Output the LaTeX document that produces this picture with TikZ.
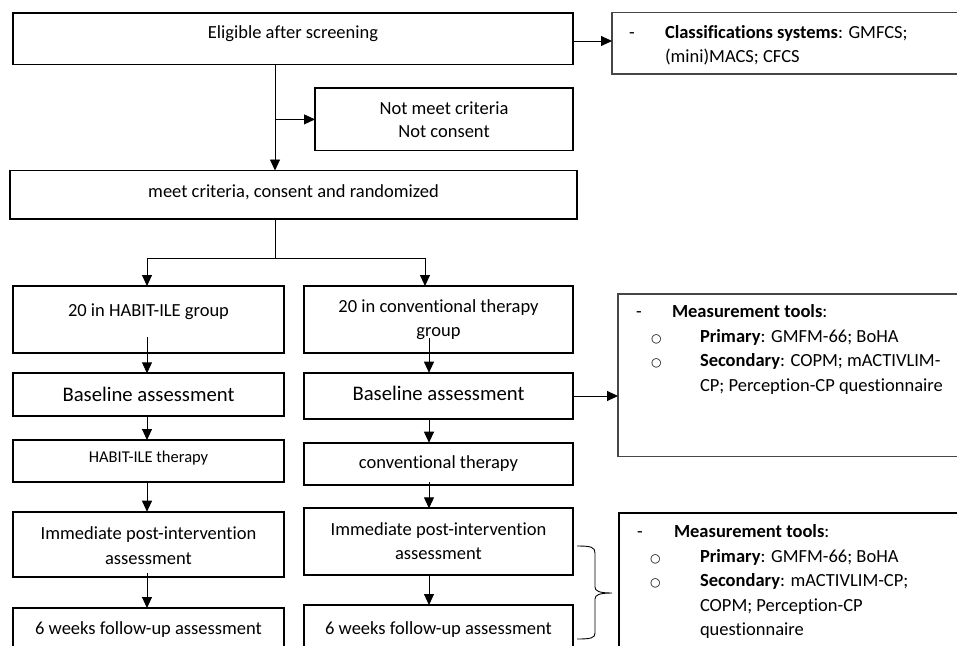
\documentclass[tikz,border=0pt]{standalone}
\usepackage{fontspec}
\setmainfont{Carlito}[Ligatures={NoCommon,NoContextual}]
\newfontfamily\bulletfont{DejaVu Sans}
\usetikzlibrary{arrows.meta}
\definecolor{thinline}{RGB}{70,70,70}
\newcommand\rb[2]{\raisebox{#1pt}[0pt][0pt]{#2}}
\newcommand\lt[3]{\makebox[0pt][l]{\hspace*{#1pt}\raisebox{#2pt}[0pt][0pt]{#3}}}
\newcommand\twol[2]{\begin{tabular}[t]{@{}c@{}}#1\\#2\end{tabular}}
\newcommand\ob{{\bulletfont\fontsize{12}{12}\selectfont ○}}
\begin{document}
\begin{tikzpicture}[x=1pt,y=-1pt,
  box/.style={draw=black, line width=1.8pt, inner sep=0pt, outer sep=0pt,
    font=\fontsize{18.5}{24.5}\selectfont},
  infobox/.style={draw=thinline, line width=1.1pt, inner sep=0pt, outer sep=0pt,
    font=\fontsize{18.5}{24.5}\selectfont},
  arr/.style={line width=0.9pt, -{Triangle[length=11pt,width=10pt]}},
  con/.style={line width=0.9pt}]
\useasboundingbox (0,0) rectangle (957,645);
\clip (0,0) rectangle (957,645);
\fill[white] (0,0) rectangle (957,645);

\coordinate (spine) at (275,0);
\coordinate (colL) at (147,0);
\coordinate (colR) at (429,0);
\coordinate (colRb) at (425,0);
\coordinate (split) at (275,258);

% top part
\node[box, minimum width=560pt, minimum height=51.8pt] (elig) at (293,38.6)
  {\rb{-0.4}{Eligible after screening}};
\node[infobox, minimum width=388pt, minimum height=61.3pt] (cls) at (806,43.35)
  {\lt{-177}{5.35}{\begin{tabular}[t]{@{}l@{}}\makebox[36pt][l]{-}\textbf{Classifications systems}: GMFCS;\\
   \hspace*{36pt}(mini)MACS; CFCS\end{tabular}}};
\node[box, minimum width=258pt, minimum height=62.2pt,
  font=\fontsize{18.5}{23}\selectfont] (notmeet) at (444,119.4)
  {\rb{4.9}{\twol{Not meet criteria}{Not consent}}};
\node[box, minimum width=567pt, minimum height=48.5pt] (meet) at (293.5,194.75)
  {\rb{-2.75}{meet criteria, consent and randomized}};

% left column
\node[box, minimum width=271pt, minimum height=67.3pt] (grpL) at (148.5,319.65)
  {\rb{3.65}{20 in HABIT-ILE group}};
\node[box, minimum width=271pt, minimum height=42.7pt,
  font=\fontsize{20.7}{24.5}\selectfont] (baseL) at (148.5,394.65)
  {\rb{-6.85}{Baseline assessment}};
\node[box, minimum width=271pt, minimum height=41.7pt,
  font=\fontsize{16.5}{20}\selectfont] (thL) at (148.5,460.85)
  {\rb{-1.95}{HABIT-ILE therapy}};
\node[box, minimum width=271pt, minimum height=65.6pt] (immL) at (148.5,544.5)
  {\rb{5}{\twol{Immediate post-intervention}{assessment}}};
\node[box, minimum width=271pt, minimum height=72pt] (fuL) at (148.5,644)
  {\rb{10}{6 weeks follow-up assessment}};

% right column
\node[box, minimum width=269pt, minimum height=67pt] (grpR) at (438.5,319.5)
  {\rb{7.5}{\twol{20 in conventional therapy}{group}}};
\node[box, minimum width=269pt, minimum height=46.6pt,
  font=\fontsize{20.7}{24.5}\selectfont] (baseR) at (438.5,396)
  {\rb{-4.7}{Baseline assessment}};
\node[box, minimum width=269pt, minimum height=42.3pt] (thR) at (438.5,463.85)
  {\rb{-4.5}{conventional therapy}};
\node[box, minimum width=269pt, minimum height=66.7pt] (immR) at (438.5,541.65)
  {\rb{6.65}{\twol{Immediate post-intervention}{assessment}}};
\node[box, minimum width=269pt, minimum height=75pt] (fuR) at (438.5,642.5)
  {\rb{8.5}{6 weeks follow-up assessment}};

% measurement boxes
\node[infobox, minimum width=382pt, minimum height=162.7pt] (meas1) at (809,375.35)
  {\lt{-173}{57.85}{\begin{tabular}[t]{@{}l@{}}\makebox[36pt][l]{-}\textbf{Measurement tools}:\\
   \hspace*{15pt}\makebox[49pt][l]{\ob}\textbf{Primary}: GMFM-66; BoHA\\
   \hspace*{15pt}\makebox[49pt][l]{\ob}\textbf{Secondary}: COPM; mACTIVLIM-\\
   \hspace*{64pt}CP; Perception-CP questionnaire\end{tabular}}};
\node[box, minimum width=381pt, minimum height=187pt] (meas2) at (809.5,606.5)
  {\lt{-172.5}{69}{\begin{tabular}[t]{@{}l@{}}\makebox[37pt][l]{-}\textbf{Measurement tools}:\\
   \hspace*{13pt}\makebox[50pt][l]{\ob}\textbf{Primary}: GMFM-66; BoHA\\
   \hspace*{13pt}\makebox[50pt][l]{\ob}\textbf{Secondary}: mACTIVLIM-CP;\\
   \hspace*{63pt}COPM; Perception-CP\\
   \hspace*{63pt}questionnaire\end{tabular}}};

% connectors
\draw[arr] ([yshift=-2.4pt]elig.east) -- ([yshift=-2.4pt]elig.east -| cls.west);
\draw[arr] (elig.south -| spine) -- (meet.north -| spine);
\draw[arr] (spine |- notmeet.west) -- (notmeet.west);
\draw[con] (meet.south -| spine) -- (split);
\draw[arr] (split) -| (grpL.north -| colL);
\draw[arr] (split) -| (grpR.north -| colRb);
\draw[arr] ([yshift=16pt]grpL.south -| colL) -- (baseL.north -| colL);
\draw[arr] ([yshift=15pt]grpR.south -| colR) -- (baseR.north -| colR);
\draw[arr] (baseL.south -| colL) -- (thL.north -| colL);
\draw[arr] (baseR.south -| colR) -- (thR.north -| colR);
\draw[arr] (thL.south -| colL) -- (immL.north -| colL);
\draw[arr] ([yshift=3pt]thR.south -| colR) -- (immR.north -| colR);
\draw[arr] ([yshift=4pt]immL.south -| colL) -- (fuL.north -| colL);
\draw[arr] (immR.south -| colR) -- (fuR.north -| colR);
\draw[arr] (baseR.east) -- (baseR.east -| meas1.west);

% brace
\draw[con] (577,546) .. controls (591,546) and (595,547) .. (595,553) -- (595,587)
  .. controls (595,591) and (599,593) .. (612,593)
  .. controls (599,593) and (595,595) .. (595,599) -- (595,633)
  .. controls (595,638) and (591,639) .. (577,639);
\end{tikzpicture}
\end{document}
